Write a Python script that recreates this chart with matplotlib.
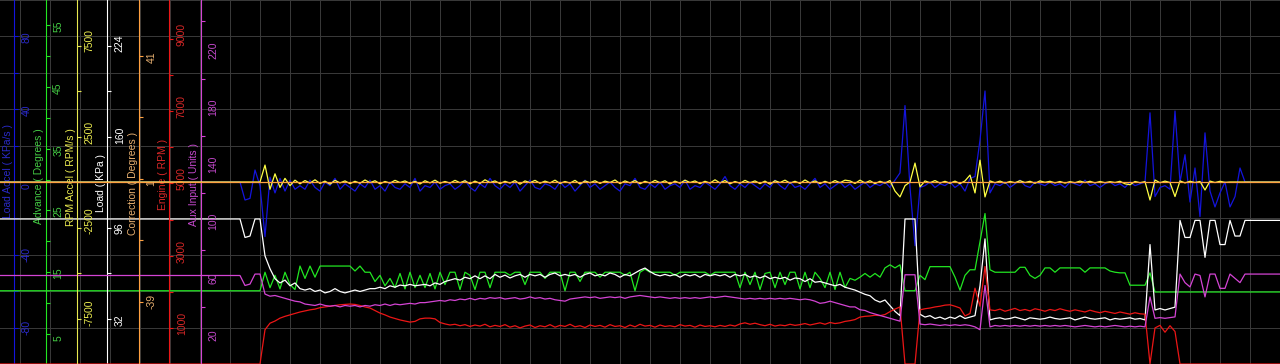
import numpy as np
import matplotlib.pyplot as plt
from matplotlib import transforms

plt.rcParams['font.family'] = ['Liberation Sans', 'DejaVu Sans']

# ------------------------------------------------------------------
# logged channels, one sample every 0.5 s (257 samples, 0 - 128 s)
# ------------------------------------------------------------------
t = np.arange(257) * 0.5

load_kpa = [
    102, 102, 102, 102, 102, 102, 102, 102, 102, 102,
    102, 102, 102, 102, 102, 102, 102, 102, 102, 102,
    102, 102, 102, 102, 102, 102, 102, 102, 102, 102,
    102, 102, 102, 102, 102, 102, 102, 102, 102, 102,
    102, 102, 102, 102, 102, 102, 102, 102, 102, 89,
    90, 102, 102, 76, 67, 60, 57, 59, 55, 57,
    53, 52, 53, 51, 52, 50, 51, 53, 51, 50,
    51, 52, 51, 52, 53, 53, 54, 53, 55, 54,
    55.5, 55, 56, 55, 55.5, 56, 55, 57, 56, 58,
    59, 60, 59, 61, 60, 62, 60, 62, 60, 63,
    61, 62.5, 60.5, 62, 63, 61, 63, 62, 63, 61,
    63, 64, 62, 63, 62, 63, 61, 63, 64, 62,
    63, 62, 64, 63, 61, 63, 62, 64, 66, 67.5,
    65, 63, 62, 63, 62, 63, 61, 63, 62, 63,
    61, 63, 62, 63, 62, 63, 61, 63, 62, 63,
    61, 62, 60.5, 62, 60, 61, 60, 61, 59, 60.5,
    60, 58, 60, 57.5, 58, 57, 56, 55, 56, 54,
    53, 52, 50.5, 49, 48, 45, 43.5, 45, 41, 37,
    34, 102, 102, 102, 35, 33, 34, 32, 33, 31.5,
    33, 32, 34, 32, 33, 34, 55, 88, 31, 32,
    32.5, 31.5, 32, 33, 32, 31, 32.5, 32, 31.5, 32,
    33, 32, 31.5, 32, 32.5, 31, 32, 33, 32, 31.5,
    32, 32.5, 31, 32, 31.5, 32, 32.5, 31.5, 32, 31,
    84, 38, 39, 38, 39, 40, 101, 89, 89, 101,
    101, 75, 101, 101, 84, 84, 101, 90, 90, 101,
    101, 101, 101, 101, 101, 101, 101,
]

aux_units = [
    62, 62, 62, 62, 62, 62, 62, 62, 62, 62,
    62, 62, 62, 62, 62, 62, 62, 62, 62, 62,
    62, 62, 62, 62, 62, 62, 62, 62, 62, 62,
    62, 62, 62, 62, 62, 62, 62, 62, 62, 62,
    62, 62, 62, 62, 62, 62, 62, 62, 62, 55,
    56, 63, 63, 49, 47.5, 48, 47, 46, 45, 44,
    43.5, 42, 41.5, 41, 42, 41, 40.5, 41, 40, 41,
    40.5, 41, 40, 41, 40.5, 41.5, 41, 42, 41, 42,
    41.5, 42, 42.5, 42, 43, 43, 43.5, 44, 44.5, 44,
    45, 44.5, 45.5, 45, 46, 45, 46, 45.5, 46.5, 46,
    46.5, 45.5, 46, 46.5, 45.5, 46, 47, 46, 46.5, 45.5,
    46, 45, 44.5, 44, 45.5, 46, 46.5, 47, 46.5, 47,
    46, 46.5, 47, 46.5, 47, 46, 47, 47.5, 48, 47.5,
    47, 46.5, 47, 46.5, 46, 46.5, 46, 46.5, 46, 46.5,
    46, 46.5, 47, 46.5, 47, 47.5, 47, 46.5, 46, 45.5,
    46, 45.5, 46, 45.5, 46, 45.5, 46, 45.5, 46, 45.5,
    45, 45.5, 45, 44, 42.5, 43, 44, 43, 42, 41,
    40, 40, 38, 37.5, 36, 35, 34, 33, 32, 31,
    30, 62.5, 62.5, 62.5, 28, 27.5, 28, 27.5, 27, 27.5,
    27, 27.5, 27, 27.5, 27, 26, 24, 55, 26, 27,
    26.5, 27, 26.5, 27, 26.5, 27, 26.5, 27, 26.5, 27,
    26.5, 27, 26.5, 27, 26.5, 26, 26.5, 27, 26.5, 26,
    26.5, 26, 26.5, 27, 26.5, 26, 26.5, 26, 26.5, 26,
    47, 32, 32.5, 32, 32.5, 33, 63, 57, 54, 63,
    62, 47, 63, 63, 53, 53, 63, 60, 57, 63,
    63, 63, 63, 63, 63, 63, 63,
]

advance_deg = [
    12, 12, 12, 12, 12, 12, 12, 12, 12, 12,
    12, 12, 12, 12, 12, 12, 12, 12, 12, 12,
    12, 12, 12, 12, 12, 12, 12, 12, 12, 12,
    12, 12, 12, 12, 12, 12, 12, 12, 12, 12,
    12, 12, 12, 12, 12, 12, 12, 12, 12, 12,
    12, 12, 12, 15, 12.5, 14.5, 12.3, 15, 13, 12.2,
    16, 14, 16, 14.2, 16, 16, 16, 16, 16, 16,
    16, 15.2, 16, 15, 15, 13.5, 14.5, 12.8, 14, 12.5,
    14.8, 12.3, 15, 12.5, 14.5, 12.5, 14.8, 12.3, 15, 13,
    15, 15, 12.2, 15, 14.5, 12.2, 15, 15, 12.5, 15,
    15, 15, 14.5, 15, 15, 13, 15, 15, 15, 14,
    15, 15, 15, 12, 15, 15, 13.5, 15, 15, 15,
    14.2, 15, 15, 15, 15, 14.5, 15, 12, 15, 15.5,
    15, 15, 15, 15, 15, 14.5, 15, 15, 15, 15,
    15, 15, 14.5, 15, 15, 15, 15, 15, 12.5, 15,
    13, 15, 12.2, 14.8, 15, 12.5, 15, 13, 15, 15,
    12.3, 15, 12.5, 15, 14, 12.5, 15, 12.2, 15, 12.5,
    14, 13.7, 14.2, 14.8, 14.2, 14.8, 14.2, 15.7, 16.2, 15.7,
    16.2, 12, 12, 12, 14.5, 13.8, 15.9, 15.9, 15.9, 15.9,
    15.9, 14.2, 12.1, 14.5, 15.4, 15.4, 19.9, 24.5, 15.4, 15,
    15, 15, 15, 15, 15.8, 15.8, 14.5, 14, 14.5, 15.7,
    15.7, 15, 15.7, 15.7, 15.7, 15.7, 15.7, 15, 15.7, 15.7,
    15.7, 15.7, 15.2, 15, 14.9, 14.9, 12.9, 12.9, 12.9, 12.9,
    14.9, 11.8, 11.8, 11.8, 11.8, 11.8, 11.8, 11.8, 11.8, 11.8,
    11.8, 11.8, 11.8, 11.8, 11.8, 11.8, 11.8, 11.8, 11.8, 11.8,
    11.8, 11.8, 11.8, 11.8, 11.8, 11.8, 11.8,
]

engine_rpm = [
    0, 0, 0, 0, 0, 0, 0, 0, 0, 0,
    0, 0, 0, 0, 0, 0, 0, 0, 0, 0,
    0, 0, 0, 0, 0, 0, 0, 0, 0, 0,
    0, 0, 0, 0, 0, 0, 0, 0, 0, 0,
    0, 0, 0, 0, 0, 0, 0, 0, 0, 0,
    0, 0, 0, 950, 1130, 1190, 1270, 1320, 1360, 1400,
    1440, 1470, 1500, 1520, 1560, 1580, 1600, 1620, 1640, 1650,
    1660, 1650, 1620, 1580, 1550, 1480, 1410, 1360, 1300, 1260,
    1220, 1190, 1160, 1180, 1250, 1270, 1270, 1250, 1150, 1110,
    1080, 1100, 1060, 1090, 1040, 1080, 1050, 1100, 1030, 1070,
    1040, 1090, 1020, 1060, 1000, 1050, 1080, 1010, 1060, 1030,
    1090, 1020, 1070, 1040, 1100, 1030, 1060, 1010, 1080, 1040,
    1070, 1020, 1090, 1040, 1060, 1010, 1080, 1030, 1100, 1050,
    1070, 1020, 1080, 1040, 1060, 1030, 1090, 1050, 1070, 1020,
    1080, 1040, 1060, 1030, 1070, 1040, 1080, 1050, 1110, 1140,
    1100, 1130, 1090, 1060, 1100, 1050, 1080, 1060, 1100, 1070,
    1090, 1120, 1080, 1110, 1140, 1100, 1150, 1120, 1140, 1180,
    1200, 1230, 1300, 1320, 1330, 1350, 1340, 1370, 1450, 1520,
    1580, 0, 0, 0, 1500, 1530, 1550, 1580, 1600, 1630,
    1640, 1600, 1550, 1330, 1400, 2100, 1600, 2700, 1500, 1480,
    1520, 1460, 1500, 1540, 1480, 1510, 1470, 1530, 1500, 1460,
    1510, 1480, 1530, 1490, 1460, 1500, 1470, 1440, 1490, 1450,
    1420, 1460, 1430, 1400, 1440, 1410, 1380, 1420, 1390, 1380,
    0, 1000, 1070, 880, 1060, 900, 0, 0, 0, 0,
    0, 0, 0, 0, 0, 0, 0, 0, 0, 0,
    0, 0, 0, 0, 0, 0, 0,
]

load_accel = [
    0, 0, 0, 0, 0, 0, 0, 0, 0, 0,
    0, 0, 0, 0, 0, 0, 0, 0, 0, 0,
    0, 0, 0, 0, 0, 0, 0, 0, 0, 0,
    0, 0, 0, 0, 0, 0, 0, 0, 0, 0,
    0, 0, 0, 0, 0, 0, 0, 0, 0, -9.9,
    -9, 6.6, -2, -30, 2.7, -6, 2, -5, 1, -4,
    -2, -4, 1, -3, -5, 0, -2, 2, -4, -1,
    -3, -5, -1, -3, 1, -4, -2, -5, 0, -3,
    -4, -1, -3, 2, -5, -2, -3, 0, -4, -2,
    -1, -4, -2, 1, -3, -5, -1, -3, 2, -2,
    -4, -1, -3, 0, -5, -2, 1, -3, -4, -1,
    -2, -4, 0, -3, -1, -5, -2, 1, -3, -1,
    -4, -2, 0, -3, -5, -1, -2, 2, -3, -4,
    -1, -3, 0, -4, -2, -1, -3, 1, -4, -2,
    -3, 0, -2, -4, -1, 3, -2, -4, -1, -3,
    0, -2, -4, -1, -3, 1, -2, -4, 0, -3,
    -2, -4, -1, 2, -3, -1, -4, -2, 0, -3,
    -1, -4, -2, 0, -3, -1, -2, 0, -3, 1,
    5, 42, -3, -35, -3, -2, 0, -3, -1, -2,
    0, -3, -1, -5, 2, 3, 23, 50, -6, -1,
    -2, 0, -3, -1, 1, -2, -3, 0, -1, -2,
    0, -2, -1, -3, 0, -1, -2, 1, -2, -1,
    -3, -1, 0, -2, -1, -3, 0, -2, -1, 0,
    38, -8, -3, -2, -4, 39, 0, 15, -11, 7.7,
    -19, 27, -5, -13.7, -6, 0, -13.7, -8, 7.7, 0,
    0, 0, 0, 0, 0, 0, 0,
]

rpm_accel = [
    0, 0, 0, 0, 0, 0, 0, 0, 0, 0,
    0, 0, 0, 0, 0, 0, 0, 0, 0, 0,
    0, 0, 0, 0, 0, 0, 0, 0, 0, 0,
    0, 0, 0, 0, 0, 0, 0, 0, 0, 0,
    0, 0, 0, 0, 0, 0, 0, 0, 0, 0,
    0, 0, 0, 930, -400, 450, -300, 200, -200, 100,
    -100, 80, -60, 120, -80, 50, -120, 90, -50, 60,
    -90, 40, -70, 110, -40, 70, -100, 30, -60, 90,
    -30, 60, -80, 40, -110, 70, -50, 100, -70, 30,
    -60, 90, -40, 70, -100, 50, -80, 120, -30, 60,
    -90, 40, -60, 80, -120, 60, -40, 90, -70, 50,
    -50, 100, -80, 30, -60, 90, -110, 60, -40, 70,
    -80, 50, -30, 110, -90, 60, -50, 80, -100, 40,
    -60, 90, -40, 70, -110, 50, -70, 100, -30, 60,
    -90, 40, -60, 120, -50, 80, -100, 30, -70, 90,
    -40, 60, -90, 50, -120, 70, -30, 100, -60, 40,
    -80, 110, -50, 60, -90, 40, -70, 80, -40, 100,
    60, -80, 100, -50, 70, -90, 40, -60, 80, -500,
    -820, -200, 0, 1040, -270, 60, -40, 80, -60, 40,
    -70, 50, -90, 60, 380, -600, 1200, -820, 60, -40,
    50, -60, 30, -40, 70, -30, 40, -70, 60, -20,
    40, -50, 30, -60, 20, -40, 50, -30, 40, -50,
    30, -40, 20, -30, 40, -100, -150, 30, -40, 20,
    -990, 110, -40, 50, -30, -800, 60, -50, 40, -30,
    30, -440, 50, -30, 40, -20, 0, 0, 0, 0,
    0, 0, 0, 0, 0, 0, 0,
]

# correction stays flat for the whole log
corr_t = [0, 128]
correction_deg = [0, 0]

# axis scales, ticks and labels
accel_ticks = [-80, -60, -40, -20, 0, 20, 40, 60, 80]
accel_labels = [-80, -40, 0, 40, 80]
adv_ticks = [5, 10, 15, 20, 25, 30, 35, 40, 45, 50, 55]
adv_labels = [5, 15, 25, 35, 45, 55]
racc_ticks = [-7500, -5000, -2500, 0, 2500, 5000, 7500]
racc_labels = [-7500, -2500, 2500, 7500]
load_ticks = [32, 64, 96, 128, 160, 192, 224]
load_labels = [32, 96, 160, 224]
corr_ticks = [-39, -19, 1, 21, 41]
corr_labels = [-39, 1, 41]
rpm_ticks = [1000, 2000, 3000, 4000, 5000, 6000, 7000, 8000, 9000]
rpm_labels = [1000, 3000, 5000, 7000, 9000]
aux_ticks = [40, 80, 120, 160, 200, 240]
aux_labels = [20, 60, 100, 140, 180, 220]

W, H = 1280, 364

fig = plt.figure(figsize=(12.8, 3.64), dpi=100, facecolor='black')

# background grid (screen grid of the logger, in pixels)
bg = fig.add_axes([0, 0, 1, 1], zorder=0)
bg.set_facecolor('black')
bg.set_xlim(0, W)
bg.set_ylim(0, 10)
bg.set_xticks(np.arange(20, W + 1, 30))
bg.set_yticks(np.arange(0, 11))
bg.grid(True, color='#383838', linewidth=0.72, antialiased=False)
bg.tick_params(length=0, labelbottom=False, labelleft=False)
for s in bg.spines.values():
    s.set_visible(False)

# (x, y, label, ylim, ticks, labels, axis x px, line colour, text colour, label y, centred labels)
channels = [
    (t, load_accel, 'Load Accel ( KPa/s )', (-100, 100), accel_ticks, accel_labels,
     14.3, '#1414dc', '#2a2ac8', 0.53, False),
    (t, advance_deg, 'Advance ( Degrees )', (0.15, 59.05), adv_ticks, adv_labels,
     45.7, '#22e622', '#44cc44', 0.515, False),
    (t, load_kpa, 'Load ( KPa )', (0, 256), load_ticks, load_labels,
     107.3, '#ffffff', '#ffffff', 0.497, False),
    (t, engine_rpm, 'Engine ( RPM )', (0, 10080), rpm_ticks, rpm_labels,
     169.3, '#ec1616', '#d82828', 0.52, False),
    (t, aux_units, 'Aux Input ( Units )', (0, 255), aux_ticks, aux_labels,
     200.7, '#d444d4', '#c448cc', 0.492, True),
    (t, rpm_accel, 'RPM Accel ( RPM/s )', (-10000, 10000), racc_ticks, racc_labels,
     77.3, '#ffff44', '#ecec50', 0.514, False),
    (corr_t, correction_deg, 'Correction ( Degrees )', (-59.2, 59.2), corr_ticks, corr_labels,
     139.0, '#ffa040', '#e8b070', 0.495, False),
]

for k, (xs, ys, name, ylim, ticks, labels, xpx, lc, tc, ly, centred) in enumerate(channels):
    ax = fig.add_axes([0, 0, 1, 1], facecolor='none', zorder=k + 1)
    ax.plot(xs, ys, color=lc, linewidth=0.9)
    ax.set_xlim(0, 128)
    ax.set_ylim(*ylim)
    ax.set_xticks([])
    for s in ('left', 'top', 'bottom'):
        ax.spines[s].set_visible(False)
    axis_col = '#e8e850' if lc == '#ffff44' else lc
    sp = ax.spines['right']
    sp.set_position(('axes', xpx / W))
    sp.set_color(axis_col)
    sp.set_linewidth(0.8)
    ax.yaxis.set_ticks_position('right')
    ax.set_yticks(ticks)
    ax.tick_params(axis='y', direction='out', length=3, width=0.8,
                   colors=axis_col, labelright=False)

    # tick values sit just right of the axis line, reading upwards
    trans = transforms.blended_transform_factory(ax.transAxes, ax.transData)
    if centred:
        ttrans, va = trans, 'center'
    else:
        ttrans, va = transforms.offset_copy(trans, fig=fig, y=-7, units='dots'), 'bottom'
    for v in labels:
        ax.text((xpx + 7.5) / W, v, str(v), transform=ttrans, rotation=90,
                ha='left', va=va, fontsize=7.5, color=tc, clip_on=False)

    # channel name just left of the axis line
    ax.text((xpx - 1.5) / W, ly, name, transform=ax.transAxes, rotation=90,
            ha='right', va='center', fontsize=7.5, color=tc, clip_on=False)

fig.savefig('out.png', dpi=100, facecolor='black')
